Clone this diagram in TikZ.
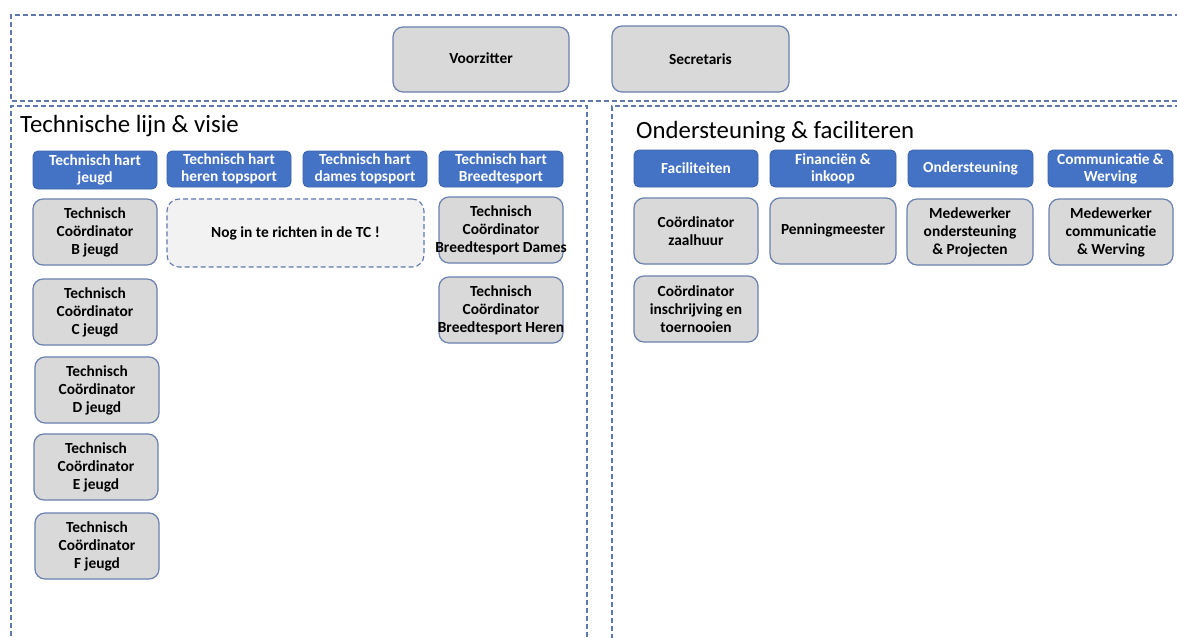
\documentclass[tikz,border=0pt]{standalone}
\usepackage{fontspec}
\setmainfont{Carlito}
\begin{document}
\begin{tikzpicture}[x=1pt,y=-1pt,
  panel/.style={draw=frame, line width=1.1pt, dash pattern=on 5pt off 3pt},
  gbox/.style={draw=gborder, fill=gfill, line width=1.2pt, rounded corners=10pt, align=center,
     inner sep=0pt, font=\fontsize{15.4}{18}\selectfont\bfseries, text=black},
  hbox/.style={draw=hborder, fill=hfill, line width=0.8pt, rounded corners=5pt, align=center,
     inner sep=0pt, font=\fontsize{15.4}{17}\selectfont\bfseries, text=white},
  nbox/.style={draw=frame, fill=nfill, line width=1.1pt, dash pattern=on 5pt off 3pt, rounded corners=12pt,
     align=center, inner sep=0pt, font=\fontsize{15.4}{18}\selectfont\bfseries},
  title/.style={anchor=west, inner sep=0pt, font=\fontsize{24.8}{29}\selectfont},
]
\definecolor{frame}{HTML}{5F78AE}
\definecolor{gborder}{HTML}{6A80B0}
\definecolor{gfill}{HTML}{D9D9D9}
\definecolor{hfill}{HTML}{4472C4}
\definecolor{hborder}{HTML}{3B62A8}
\definecolor{nfill}{HTML}{F2F2F2}
\useasboundingbox (0,0) rectangle (1177,637);
\fill[white] (0,0) rectangle (1177,637);

% frames
\draw[panel] (1180,15) -- (11,15) -- (11,101) -- (1180,101);
\draw[panel] (587,645) -- (587,106) -- (11,106) -- (11,645);
\draw[panel] (1180,106) -- (612,106) -- (612,645);

% top
\node[gbox, minimum width=176, minimum height=65] (voorz) at (481,59.5) {\raisebox{3pt}{Voorzitter}};
\node[gbox, minimum width=177, minimum height=66] (secr) at (700.5,59) {Secretaris};

% titles
\node[title] (t1) at (20,126) {Technische lijn \& visie};
\node[title] (t2) at (636,132) {Ondersteuning \& faciliteren};

% left headers
\node[hbox, minimum width=124, minimum height=38] (h1) at (95,170) {Technisch hart\\jeugd};
\node[hbox, minimum width=124, minimum height=36] (h2) at (229,169) {Technisch hart\\heren topsport};
\node[hbox, minimum width=124, minimum height=36] (h3) at (365,169) {Technisch hart\\dames topsport};
\node[hbox, minimum width=124, minimum height=36] (h4) at (501,169) {Technisch hart\\Breedtesport};

% left column
\node[gbox, minimum width=124, minimum height=66] (cb) at (95,232) {Technisch\\Coördinator\\B jeugd};
\node[gbox, minimum width=124, minimum height=66] (cc) at (95,312) {Technisch\\Coördinator\\C jeugd};
\node[gbox, minimum width=124, minimum height=66] (cd) at (97,390) {Technisch\\Coördinator\\D jeugd};
\node[gbox, minimum width=124, minimum height=66] (ce) at (96,467) {Technisch\\Coördinator\\E jeugd};
\node[gbox, minimum width=124, minimum height=66] (cf) at (97,546) {Technisch\\Coördinator\\F jeugd};

\node[nbox, minimum width=257, minimum height=68] (nog) at (295.5,233) {Nog in te richten in de TC !};

\node[gbox, minimum width=124, minimum height=66] (bd) at (501,230) {Technisch\\Coördinator\\\makebox[110pt]{Breedtesport Dames}};
\node[gbox, minimum width=124, minimum height=66] (bh) at (501,310) {Technisch\\Coördinator\\\makebox[110pt]{Breedtesport Heren}};

% right headers
\node[hbox, minimum width=124, minimum height=37] (r1) at (696,168.5) {Faciliteiten};
\node[hbox, minimum width=126, minimum height=37] (r2) at (833,168.5) {Financiën \&\\inkoop};
\node[hbox, minimum width=125, minimum height=37] (r3) at (970.5,168.5) {Ondersteuning};
\node[hbox, minimum width=125, minimum height=37] (r4) at (1110.5,168.5) {Communicatie \&\\Werving};

% right boxes
\node[gbox, minimum width=124, minimum height=66] (za) at (696,231) {Coördinator\\zaalhuur};
\node[gbox, minimum width=126, minimum height=66] (pm) at (833,231) {\raisebox{3pt}{Penningmeester}};
\node[gbox, minimum width=126, minimum height=66] (mo) at (970,232) {Medewerker\\ondersteuning\\\& Projecten};
\node[gbox, minimum width=124, minimum height=66] (mc) at (1111,232) {Medewerker\\communicatie\\\& Werving};
\node[gbox, minimum width=124, minimum height=66] (ci) at (696,309) {Coördinator\\inschrijving en\\toernooien};
\end{tikzpicture}
\end{document}
